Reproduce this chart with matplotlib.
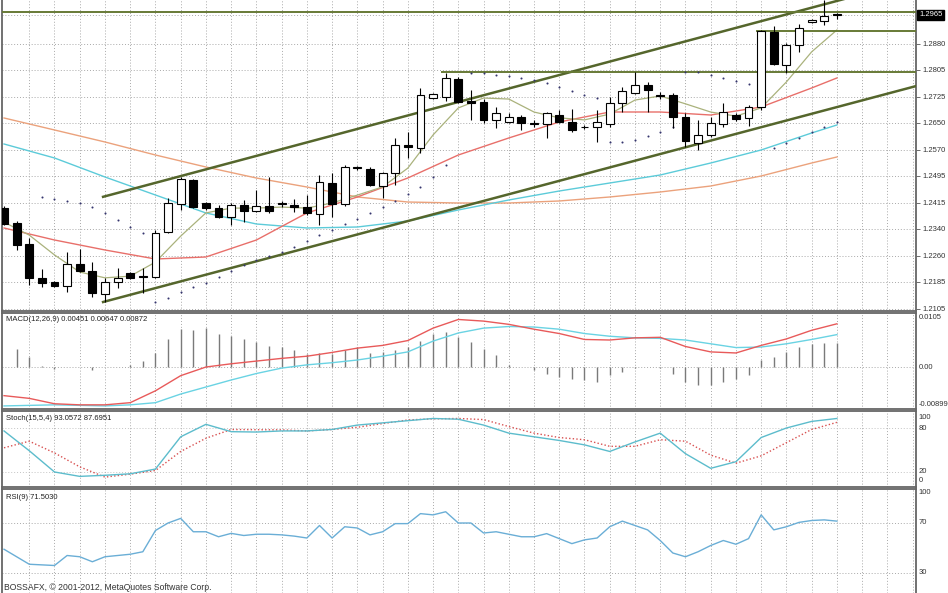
import matplotlib
matplotlib.use("Agg")
import matplotlib.pyplot as plt
import matplotlib.transforms as mtransforms
import numpy as np

plt.rcParams['font.family'] = ['Liberation Sans', 'DejaVu Sans']

# ---------------- data ----------------
opens = [1.2400, 1.2356, 1.2295, 1.2196, 1.2184, 1.2172, 1.2236, 1.2216, 1.2149, 1.2184,
         1.2210, 1.2201, 1.2198, 1.2330, 1.2412, 1.2482, 1.2415, 1.2400, 1.2374, 1.2409,
         1.2391, 1.2406, 1.2415, 1.2409, 1.2403, 1.2383, 1.2473, 1.2412, 1.2520, 1.2514,
         1.2465, 1.2503, 1.2585, 1.2576, 1.2722, 1.2725, 1.2778, 1.2713, 1.2710, 1.2658,
         1.2652, 1.2666, 1.2649, 1.2646, 1.2672, 1.2652, 1.2638, 1.2637, 1.2646, 1.2707,
         1.2737, 1.2760, 1.2731, 1.2731, 1.2666, 1.2590, 1.2614, 1.2646, 1.2672, 1.2664,
         1.2696, 1.2915, 1.2819, 1.2877, 1.2944, 1.2947, 1.2967]
highs = [1.2406, 1.2362, 1.2313, 1.2222, 1.2187, 1.2272, 1.2280, 1.2242, 1.2196, 1.2225,
         1.2213, 1.2225, 1.2336, 1.2430, 1.2491, 1.2485, 1.2418, 1.2409, 1.2415, 1.2424,
         1.2453, 1.2491, 1.2421, 1.2427, 1.2438, 1.2497, 1.2503, 1.2526, 1.2523, 1.2520,
         1.2506, 1.2605, 1.2623, 1.2751, 1.2737, 1.2795, 1.2784, 1.2745, 1.2719, 1.2696,
         1.2678, 1.2672, 1.2658, 1.2681, 1.2687, 1.2690, 1.2643, 1.2687, 1.2725, 1.2754,
         1.2798, 1.2769, 1.2740, 1.2737, 1.2678, 1.2658, 1.2666, 1.2707, 1.2678, 1.2702,
         1.2921, 1.2933, 1.2883, 1.2938, 1.2953, 1.3008, 1.2970]
lows = [1.2350, 1.2277, 1.2175, 1.2169, 1.2169, 1.2155, 1.2213, 1.2140, 1.2125, 1.2166,
        1.2193, 1.2152, 1.2196, 1.2327, 1.2394, 1.2400, 1.2394, 1.2371, 1.2350, 1.2359,
        1.2389, 1.2386, 1.2403, 1.2389, 1.2380, 1.2350, 1.2374, 1.2406, 1.2511, 1.2465,
        1.2430, 1.2468, 1.2547, 1.2561, 1.2719, 1.2713, 1.2707, 1.2658, 1.2649, 1.2634,
        1.2649, 1.2628, 1.2637, 1.2605, 1.2649, 1.2623, 1.2631, 1.2593, 1.2637, 1.2681,
        1.2734, 1.2681, 1.2719, 1.2634, 1.2579, 1.2570, 1.2608, 1.2637, 1.2655, 1.2640,
        1.2687, 1.2819, 1.2795, 1.2857, 1.2941, 1.2936, 1.2952]
closes = [1.2353, 1.2292, 1.2196, 1.2181, 1.2172, 1.2236, 1.2216, 1.2152, 1.2184, 1.2196,
          1.2196, 1.2198, 1.2327, 1.2415, 1.2485, 1.2403, 1.2400, 1.2374, 1.2409, 1.2391,
          1.2406, 1.2391, 1.2412, 1.2403, 1.2386, 1.2476, 1.2412, 1.2520, 1.2517, 1.2468,
          1.2503, 1.2585, 1.2579, 1.2731, 1.2734, 1.2781, 1.2710, 1.2707, 1.2658, 1.2678,
          1.2666, 1.2649, 1.2646, 1.2678, 1.2652, 1.2628, 1.2636, 1.2652, 1.2707, 1.2742,
          1.2760, 1.2745, 1.2728, 1.2666, 1.2596, 1.2614, 1.2649, 1.2681, 1.2661, 1.2696,
          1.2918, 1.2822, 1.2877, 1.2927, 1.2950, 1.2962, 1.2965]

# moving averages (sampled)
ma_slow_idx = [0, 4, 8, 12, 16, 20, 24, 28, 32, 36, 40, 44, 48, 52, 56, 60, 64, 66]
ma_cyan = [1.25875, 1.25466, 1.24910, 1.24383, 1.23857, 1.23535, 1.23418, 1.23447, 1.23623,
           1.23945, 1.24237, 1.24500, 1.24734, 1.24968, 1.25319, 1.25700, 1.26197, 1.26431]
ma_tan = [1.26636, 1.26285, 1.25934, 1.25553, 1.25202, 1.24880, 1.24617, 1.24325, 1.24178,
          1.24149, 1.24149, 1.24208, 1.24325, 1.24471, 1.24646, 1.24939, 1.25319, 1.25495]
ma_red = [1.23418, 1.23067, 1.22775, 1.22511, 1.22570, 1.23067, 1.23857, 1.24325, 1.24881,
          1.25553, 1.26051, 1.26519, 1.26811, 1.26811, 1.26723, 1.26957, 1.27513, 1.27806]
ma_fast_idx = list(range(0, 67, 2))
ma_fast = [1.2359, 1.2321, 1.2263, 1.2213, 1.2196, 1.2201, 1.2242, 1.2318, 1.2386, 1.2400,
           1.2400, 1.2403, 1.2400, 1.2415, 1.2438, 1.2462, 1.2517, 1.2614, 1.2693, 1.2722,
           1.2719, 1.2681, 1.2664, 1.2658, 1.2675, 1.2716, 1.2728, 1.2705, 1.2681, 1.2669,
           1.2693, 1.2769, 1.2857, 1.2921]

# parabolic SAR
sar_idx = [3, 4, 5, 6, 7, 8, 9, 10, 11,
           12, 13, 14, 15, 16, 17, 18, 19, 20, 21, 22, 23, 24, 25, 26, 27, 28, 29, 30, 31, 32, 33, 34, 35,
           37, 38, 39, 40, 41, 42, 43, 44, 45, 46, 47,
           48, 49, 50, 51, 52, 53,
           54, 55, 56, 57, 58, 59,
           61, 62, 63, 64, 65, 66]
sar_val = [1.24325, 1.24266, 1.24208, 1.24149, 1.24032, 1.23857, 1.23652, 1.23447, 1.23272,
           1.21253, 1.21370, 1.21546, 1.21692, 1.21809, 1.21985, 1.22160, 1.22336, 1.22482, 1.22599,
           1.22716, 1.22862, 1.23038, 1.23213, 1.23359, 1.23535, 1.23681, 1.23857, 1.24032, 1.24208,
           1.24412, 1.24617, 1.24910, 1.25261,
           1.27952, 1.27952, 1.27893, 1.27864, 1.27805, 1.27747, 1.27659, 1.27542, 1.27425, 1.27308, 1.27220,
           1.25933, 1.25933, 1.25992, 1.26109, 1.26226, 1.26372,
           1.27981, 1.27981, 1.27893, 1.27805, 1.27718, 1.27630,
           1.25758, 1.25904, 1.26050, 1.26226, 1.26372, 1.26518]

# trend lines and horizontal levels
trend_idx = [7.85, 72.3]
trend_upper = [1.2433, 1.3068]
trend_lower = [1.21253, 1.27572]
level_prices = [1.29736, 1.29180, 1.27981]
level_start = [-0.2, 59.7, 34.7]

price_tick_labels = ['1.2880', '1.2805', '1.2725', '1.2650', '1.2570', '1.2495',
                     '1.2415', '1.2340', '1.2260', '1.2185', '1.2105']
last_price = '1.2965'

# MACD
macd_hist = [0.0, 0.0034, 0.00185, 0.0001, -0.0003, 0.0, 0.0, -0.0005, 0.0, 0.0,
             0.0003, 0.0011, 0.0026, 0.0051, 0.0071, 0.0069, 0.0073, 0.0061, 0.0057, 0.0051,
             0.0046, 0.0038, 0.0037, 0.0031, 0.00247, 0.0026, 0.00247, 0.00309, 0.00371, 0.0026,
             0.00278, 0.00309, 0.00371, 0.00482, 0.00606, 0.00649, 0.00556, 0.00464, 0.0034, 0.00216,
             0.0003, 0.0, -0.0006, -0.00124, -0.00185, -0.00216, -0.00247, -0.00278, -0.00155, -0.00093,
             -0.0001, 0.0, -0.0002, -0.00124, -0.00278, -0.0034, -0.0034, -0.00278, -0.00216, -0.00155,
             0.00124, 0.00185, 0.00278, 0.00371, 0.00433, 0.00445, 0.00451]
macd_line_idx = list(range(0, 67, 2))
macd_main = [-0.0053, -0.0058, -0.0068, -0.0070, -0.0070, -0.0066, -0.0044, -0.0016, 0.0000, 0.0006,
             0.0011, 0.0016, 0.0020, 0.0027, 0.0035, 0.0040, 0.0049, 0.0072, 0.0088, 0.0085,
             0.0079, 0.0070, 0.0062, 0.0051, 0.0050, 0.0054, 0.0055, 0.0038, 0.0028, 0.0026,
             0.0040, 0.0052, 0.0068, 0.0080]
macd_signal = [-0.0072, -0.0071, -0.0070, -0.0071, -0.0072, -0.0070, -0.0066, -0.0050, -0.0037, -0.0024,
               -0.0012, -0.0002, 0.0004, 0.0008, 0.0013, 0.0020, 0.0028, 0.0048, 0.0063, 0.0072,
               0.0075, 0.0074, 0.0070, 0.0062, 0.0057, 0.0054, 0.0053, 0.0050, 0.0043, 0.0036,
               0.0037, 0.0043, 0.0051, 0.0060]
macd_tick_labels = ['0.0105', '0.00', '-0.00899']

# Stochastic
sto_idx = list(range(0, 67, 2))
sto_main = [76, 49, 20, 14, 15.5, 17.5, 24, 68, 85, 75, 74.5, 76, 76, 78, 84, 87, 90, 93, 92, 84,
            73, 68, 63, 57, 48, 61, 73, 45, 25, 34, 67, 80, 89, 93]
sto_signal = [53, 62, 46, 27, 13, 17, 22, 48, 66, 78, 77.7, 77.5, 76, 78, 81, 86, 91, 92.5, 93, 91.5,
              82, 73, 67, 64, 55, 55, 64, 62, 43, 32, 42, 60, 78, 87.7]
sto_tick_labels = ['100', '80', '20', '0']

# RSI
rsi = [49, 43, 37, 36.5, 36, 44, 43, 39, 43, 44, 45, 47, 64, 70, 73.7, 63, 63, 59, 61.7, 60,
       61, 61, 60.5, 59.5, 58, 68, 58, 67, 66, 60.5, 63, 69.5, 69.5, 77.5, 76.5, 79, 70, 70, 62, 63,
       61, 59, 59, 61.5, 57.5, 53.5, 56.5, 58, 67, 71.5, 68, 64.5, 56, 46, 43, 47, 52, 56, 53, 57.5,
       76.5, 64.5, 67, 70.5, 72, 72.5, 71.5]
rsi_tick_labels = ['100', '70', '30']

# ---------------- layout ----------------
W, H = 948, 593
fig = plt.figure(figsize=(W / 100, H / 100), dpi=100)
fig.patch.set_facecolor('white')

def add_ax(top, bottom):
    return fig.add_axes([2 / W, 1 - bottom / H, 914 / W, (bottom - top) / H])

ax_main = add_ax(0, 311)
ax_macd = add_ax(313, 409)
ax_sto = add_ax(411, 487)
ax_rsi = add_ax(489, 593)

GRID = dict(color='#a9a9a9', lw=0.7, ls=(0, (1, 2)), zorder=0)
XMIN, XMAX = -0.16, 72.27
for ax in (ax_main, ax_macd, ax_sto, ax_rsi):
    ax.set_xlim(XMIN, XMAX)
    ax.set_xticks([])
    for gx in range(2, 73, 2):
        ax.axvline(gx, **GRID)
    for s in ax.spines.values():
        s.set_color('#666666')
        s.set_linewidth(1.3)
    ax.yaxis.tick_right()
    ax.tick_params(axis='y', direction='out', length=3, width=0.6, colors='#555555',
                   labelsize=5.5, pad=2, labelcolor='#333333')
ax_main.spines['top'].set_visible(False)
ax_rsi.spines['bottom'].set_visible(False)

# ---------------- main panel ----------------
ax = ax_main
ax.set_ylim(1.2099, 1.30087)
tick_vals = [float(t) for t in price_tick_labels]
ax.set_yticks(tick_vals)
ax.set_yticklabels(price_tick_labels)
for v in tick_vals + [float(last_price)]:
    ax.axhline(v, **GRID)

idx = np.arange(len(opens))
o = np.array(opens); c = np.array(closes)
h = np.array(highs); l = np.array(lows)

# MAs
ax.plot(ma_slow_idx, ma_tan, color='#eba27c', lw=1.0, zorder=2)
ax.plot(ma_slow_idx, ma_cyan, color='#5ccbd9', lw=1.0, zorder=2)
ax.plot(ma_slow_idx, ma_red, color='#e86f6a', lw=1.0, zorder=2)
ax.plot(ma_fast_idx, ma_fast, color='#aab27c', lw=0.9, zorder=2)

# trend lines / levels
ax.plot(trend_idx, trend_upper, color='#55662c', lw=1.8, zorder=3)
ax.plot(trend_idx, trend_lower, color='#55662c', lw=1.8, zorder=3)
for lp, ls_ in zip(level_prices, level_start):
    ax.plot([ls_, XMAX], [lp, lp], color='#677a36', lw=1.4, zorder=3)

# SAR
ax.scatter(sar_idx, sar_val, s=2.2, color='#35356e', zorder=3, linewidths=0)

# candles
up = c >= o
ax.vlines(idx, l, h, color='black', lw=0.8, zorder=4)
ax.bar(idx, np.maximum(np.abs(c - o), 0.00012), bottom=np.minimum(o, c), width=0.62,
       color=np.where(up, 'white', 'black'), edgecolor='black', linewidth=0.8, zorder=5)

# last price box
tr = mtransforms.blended_transform_factory(ax.transAxes, ax.transData)
ax.text(1.0035, float(last_price), last_price, transform=tr, fontsize=5.5, color='white',
        va='center', ha='left',
        bbox=dict(boxstyle='square,pad=0.25', fc='black', ec='black'))

# ---------------- MACD ----------------
ax = ax_macd
ax.set_ylim(-0.00777, 0.0100)
ax.set_yticks([])
ax.axhline(0, **GRID)
ax.vlines(idx, 0, macd_hist, color='#7a7a7a', lw=1.0, zorder=2)
ax.plot(macd_line_idx, macd_signal, color='#6ad3e3', lw=1.0, zorder=3)
ax.plot(macd_line_idx, macd_main, color='#e85a5a', lw=1.0, zorder=3)
trA = ax.transAxes
ax.text(1.003, 0.95, macd_tick_labels[0], transform=trA, fontsize=5.5, color='#333333', va='center')
ax.text(1.003, (0 + 0.00777) / (0.0100 + 0.00777), macd_tick_labels[1], transform=trA,
        fontsize=5.5, color='#333333', va='center')
ax.text(1.003, 0.05, macd_tick_labels[2], transform=trA, fontsize=5.5, color='#333333', va='center')
ax.text(0.004, 0.93, 'MACD(12,26,9) 0.00451 0.00647 0.00872', transform=trA, fontsize=5.5,
        color='#222222', va='center')

# ---------------- Stochastic ----------------
ax = ax_sto
ax.set_ylim(-0.5, 103.2)
ax.set_yticks([])
for lv in (80, 20):
    ax.axhline(lv, color='#c4c4c4', lw=0.7, ls=(0, (1, 2)), zorder=0)
ax.plot(sto_idx, sto_signal, color='#d85050', lw=1.0, ls=(0, (1, 1.6)), zorder=3)
ax.plot(sto_idx, sto_main, color='#5cbccc', lw=1.0, zorder=3)
for lab, yy in zip(sto_tick_labels, [0.908, 0.776, 0.21, 0.092]):
    ax.text(1.003, yy, lab, transform=ax.transAxes, fontsize=5.5, color='#333333', va='center')
ax.text(0.004, 0.9, 'Stoch(15,5,4) 93.0572 87.6951', transform=ax.transAxes, fontsize=5.5,
        color='#222222', va='center')

# ---------------- RSI ----------------
ax = ax_rsi
ax.set_ylim(14, 97.2)
ax.set_yticks([])
for lv in (70, 30):
    ax.axhline(lv, **GRID)
ax.plot(idx, rsi, color='#6aaed6', lw=1.0, zorder=3)
trR = mtransforms.blended_transform_factory(ax.transAxes, ax.transData)
for lab, yy in zip(rsi_tick_labels, [94.3, 70, 30]):
    ax.text(1.003, yy, lab, transform=trR, fontsize=5.5, color='#333333', va='center')
ax.text(0.004, 0.92, 'RSI(9) 71.5030', transform=ax.transAxes, fontsize=5.5,
        color='#222222', va='center')

fig.text(4 / W, 1 - 592.5 / H, 'BOSSAFX, © 2001-2012, MetaQuotes Software Corp.', fontsize=6.2,
         color='#333333', va='bottom', ha='left')

fig.savefig('out.png', dpi=100, facecolor='white')
